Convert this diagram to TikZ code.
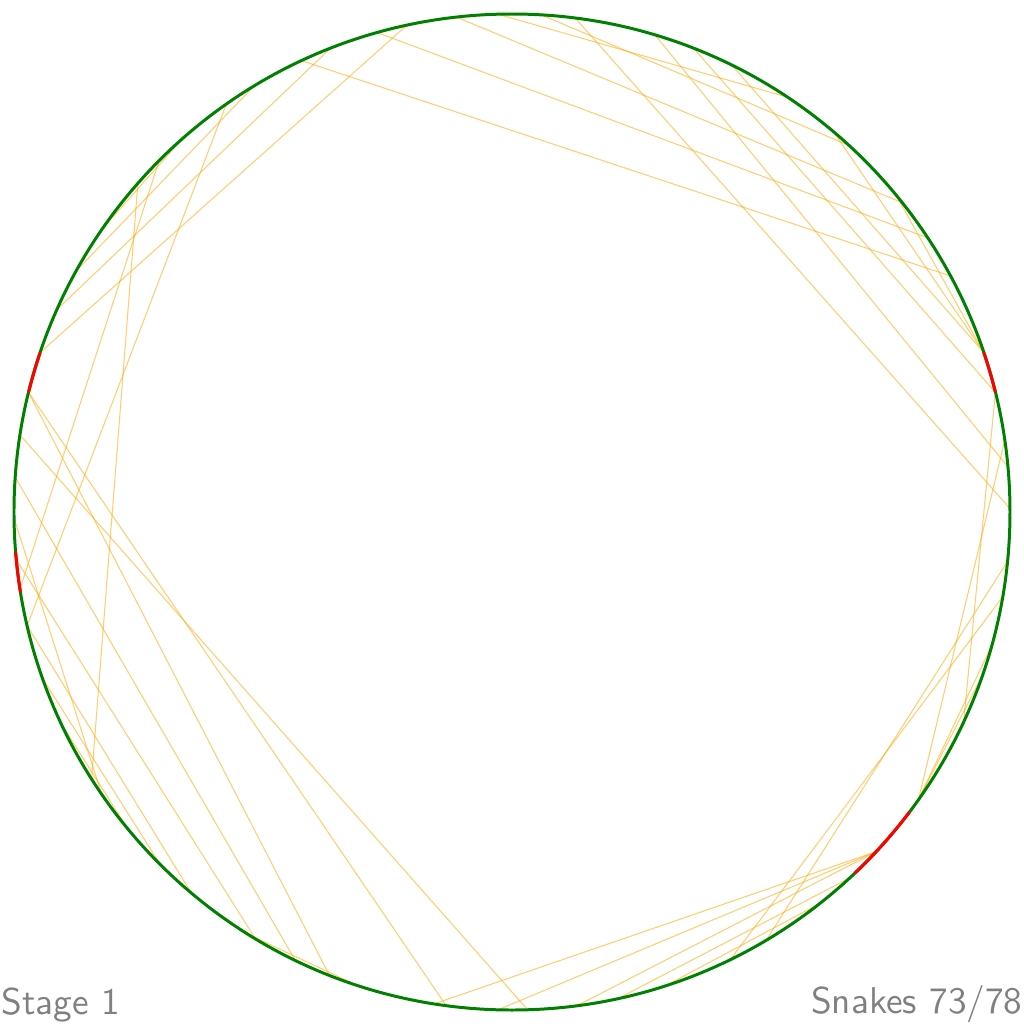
\documentclass[tikz,border=0pt]{standalone}
\usepackage{tikz}
\definecolor{rimgreen}{RGB}{0,128,0}
\definecolor{rimred}{RGB}{255,0,0}
\definecolor{chordorange}{RGB}{255,165,0}
\definecolor{labelgray}{RGB}{128,128,128}
\newcommand{\rimr}{4.98}

\begin{document}
\begin{tikzpicture}[chord/.style={chordorange,opacity=0.55,line width=0.3pt},
  rim/.style={rimgreen,line width=0.85pt},
  hotarc/.style={rimred,line width=0.85pt},
  every node/.style={font=\sffamily\fontsize{10.6}{13}\selectfont,text=labelgray,inner sep=0.2pt}]
  \useasboundingbox (-5.12,-5.12) rectangle (5.12,5.12);
  % Top-right chords, shallow
  \draw[chord] (115.0:\rimr) -- (28.3:\rimr);
  \draw[chord] (105.7:\rimr) -- (33.4:\rimr);
  \draw[chord] (96.4:\rimr) -- (38.4:\rimr);
  \draw[chord] (91.6:\rimr) -- (56.4:\rimr);
  \draw[chord] (86.6:\rimr) -- (47.4:\rimr);
  % Top-right chords, steep
  \draw[chord] (82.7:\rimr) -- (0.4:\rimr);
  \draw[chord] (73.3:\rimr) -- (5.2:\rimr);
  \draw[chord] (68.6:\rimr) -- (13.9:\rimr);
  \draw[chord] (63.8:\rimr) -- (18.7:\rimr);
  \draw[chord] (49.8:\rimr) -- (18.7:\rimr);
  \draw[chord] (39.5:\rimr) -- (18.7:\rimr);
  % Right side, going down
  \draw[chord] (13.9:\rimr) -- (-24.9:\rimr);
  \draw[chord] (8.3:\rimr) -- (-35.3:\rimr);
  \draw[chord] (-5.7:\rimr) -- (-59.3:\rimr);
  \draw[chord] (-9.8:\rimr) -- (-64.0:\rimr);
  \draw[chord] (-15.5:\rimr) -- (-35.3:\rimr);
  \draw[chord] (-19.1:\rimr) -- (-35.3:\rimr);
  % Bottom, from the lower red arc
  \draw[chord] (-43.0:\rimr) -- (261.0:\rimr);
  \draw[chord] (-43.0:\rimr) -- (268.4:\rimr);
  \draw[chord] (-43.0:\rimr) -- (277.5:\rimr);
  \draw[chord] (-47.3:\rimr) -- (282.3:\rimr);
  \draw[chord] (-51.8:\rimr) -- (288.0:\rimr);
  % Left side, going down to the bottom
  \draw[chord] (166.1:\rimr) -- (262.4:\rimr);
  \draw[chord] (166.1:\rimr) -- (248.5:\rimr);
  \draw[chord] (171.1:\rimr) -- (271.8:\rimr);
  \draw[chord] (176.0:\rimr) -- (244.2:\rimr);
  \draw[chord] (185.5:\rimr) -- (239.0:\rimr);
  \draw[chord] (193.2:\rimr) -- (229.9:\rimr);
  \draw[chord] (199.6:\rimr) -- (225.1:\rimr);
  \draw[chord] (180.7:\rimr) -- (214.5:\rimr);
  \draw[chord] (205.1:\rimr) -- (219.4:\rimr);
  \draw[chord] (238.0:\rimr) -- (251.8:\rimr);
  % Top-left chords
  \draw[chord] (102.2:\rimr) -- (161.3:\rimr);
  \draw[chord] (111.4:\rimr) -- (156.0:\rimr);
  \draw[chord] (121.2:\rimr) -- (151.0:\rimr);
  \draw[chord] (125.0:\rimr) -- (193.2:\rimr);
  \draw[chord] (135.1:\rimr) -- (188.9:\rimr);
  \draw[chord] (138.7:\rimr) -- (212.4:\rimr);
  \draw[chord] (131.5:\rimr) -- (145.3:\rimr);
  % Rim and red arcs
  \draw[rim] (0,0) circle (\rimr);
  \draw[hotarc] (161.3:\rimr) arc[start angle=161.3,end angle=166.1,radius=\rimr];
  \draw[hotarc] (184.6:\rimr) arc[start angle=184.6,end angle=189.3,radius=\rimr];
  \draw[hotarc] (13.9:\rimr) arc[start angle=13.9,end angle=18.7,radius=\rimr];
  \draw[hotarc] (313.5:\rimr) arc[start angle=313.5,end angle=323.0,radius=\rimr];
  % Labels
  \node[anchor=south west] (stage) at (-5.12,-5.12) {Stage 1};
  \node[anchor=south east] (count) at (5.12,-5.12) {Snakes 73/78};
\end{tikzpicture}
\end{document}
